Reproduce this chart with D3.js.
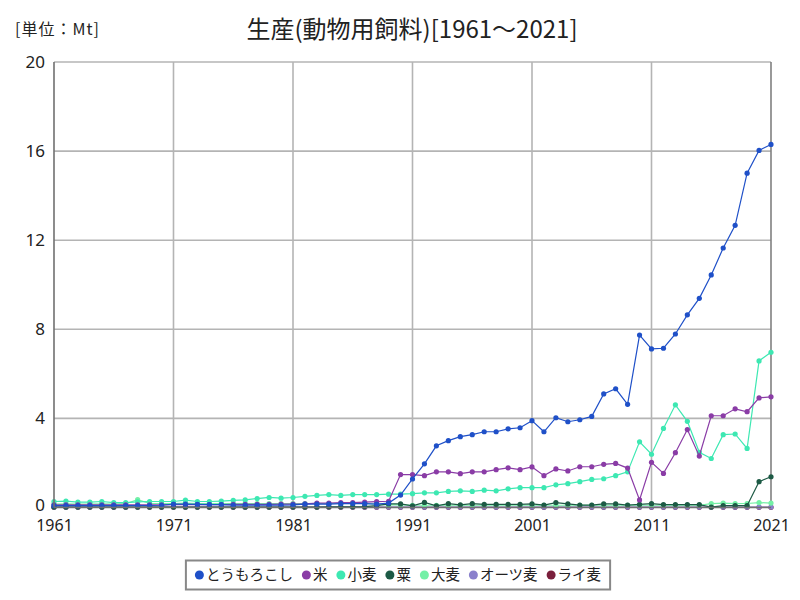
<!DOCTYPE html>
<html><head><meta charset="utf-8">
<script src="https://cdn.jsdelivr.net/npm/d3@7"></script>
<style>
body{margin:0;background:#fff;}
text{font-family:"Noto Sans CJK JP","Noto Sans",sans-serif;fill:#222;}
</style></head>
<body><svg id="chart" width="800" height="600"></svg>
<script>
const years = d3.range(1961, 2022);
const seriesNames = ["とうもろこし","米","小麦","粟","大麦","オーツ麦","ライ麦"];
const seriesColors = ["#1f50c8","#8a3ca6","#3de8b2","#1d5a45","#74f0a6","#8a80cc","#7a1f3c"];

const corn = [0.08,0.08,0.08,0.08,0.08,0.08,0.08,0.09,0.09,0.1,0.15,0.15,0.14,0.13,0.13,0.11,0.11,0.11,0.11,0.11,0.12,0.15,0.15,0.15,0.17,0.18,0.17,0.15,0.2,
  0.56,1.28,1.96,2.77,3.0,3.18,3.27,3.4,3.4,3.53,3.58,3.9,3.4,4.03,3.85,3.94,4.09,5.1,5.33,4.63,7.74,7.12,7.15,7.79,8.65,9.39,10.44,11.65,12.67,15.01,16.03,16.3];
const rice = [0.12,0.12,0.12,0.12,0.12,0.12,0.12,0.12,0.12,0.12,0.13,0.13,0.13,0.13,0.13,0.14,0.14,0.14,0.14,0.15,0.15,0.16,0.2,0.2,0.22,0.22,0.24,0.26,0.28,
  1.48,1.48,1.43,1.6,1.6,1.52,1.6,1.6,1.7,1.78,1.7,1.82,1.43,1.73,1.64,1.83,1.83,1.94,1.98,1.77,0.34,2.03,1.53,2.46,3.5,2.31,4.12,4.12,4.43,4.3,4.92,4.97];
const wheat = [0.27,0.29,0.24,0.24,0.27,0.22,0.22,0.25,0.27,0.27,0.27,0.33,0.27,0.27,0.29,0.32,0.34,0.4,0.45,0.42,0.45,0.5,0.54,0.58,0.54,0.58,0.58,0.58,0.6,
  0.6,0.62,0.66,0.66,0.72,0.75,0.72,0.78,0.75,0.84,0.89,0.89,0.89,1.02,1.07,1.16,1.26,1.29,1.43,1.6,2.95,2.39,3.55,4.61,3.87,2.48,2.2,3.27,3.3,2.65,6.58,6.97];
const millet = [0.02,0.02,0.02,0.02,0.02,0.02,0.02,0.02,0.02,0.02,0.02,0.02,0.02,0.02,0.02,0.02,0.02,0.02,0.02,0.02,0.02,0.02,0.02,0.03,0.03,0.03,0.04,0.08,0.16,
  0.16,0.07,0.23,0.07,0.17,0.12,0.17,0.14,0.14,0.14,0.14,0.16,0.11,0.22,0.16,0.11,0.11,0.16,0.16,0.11,0.14,0.17,0.13,0.13,0.13,0.13,0.02,0.08,0.08,0.08,1.16,1.38];
const barley = [0.15,0.16,0.15,0.15,0.16,0.15,0.17,0.35,0.18,0.18,0.18,0.2,0.18,0.18,0.18,0.18,0.18,0.18,0.18,0.18,0.18,0.18,0.18,0.18,0.18,0.18,0.18,0.15,0.12,
  0.12,0.1,0.1,0.1,0.1,0.1,0.1,0.1,0.1,0.1,0.1,0.1,0.1,0.1,0.1,0.1,0.1,0.1,0.1,0.1,0.1,0.1,0.1,0.1,0.1,0.1,0.17,0.2,0.17,0.18,0.22,0.2];
const oats = years.map(() => 0.02);
const rye = years.map(() => 0.01);
const seriesValues = [corn, rice, wheat, millet, barley, oats, rye];

const yTicks = [0,4,8,12,16,20];
const xTicks = [1961,1971,1981,1991,2001,2011,2021];
const titleText = "生産(動物用飼料)[1961～2021]";
const unitText = "[単位：Mt]";

const svg = d3.select("#chart");
const L = 54, R = 771, T = 62, B = 507.5;
const x = d3.scaleLinear().domain([1961, 2021]).range([L, R]);
const y = d3.scaleLinear().domain([0, 20]).range([B, T]);

// grid
const g = svg.append("g");
g.selectAll(".hg").data(yTicks.filter(d => d > 0)).join("line")
  .attr("x1", L).attr("x2", R).attr("y1", d => y(d)).attr("y2", d => y(d))
  .attr("stroke", "#b4b4b4").attr("stroke-width", 1.6);
g.selectAll(".vg").data(xTicks.filter(d => d > 1961)).join("line")
  .attr("x1", d => x(d)).attr("x2", d => x(d)).attr("y1", T).attr("y2", B)
  .attr("stroke", d => d === 2021 ? "#808080" : "#b4b4b4").attr("stroke-width", 1.6);

// series (draw reversed so first is on top)
const line = d3.line().x((d, i) => x(years[i])).y(d => y(d));
for (let s = seriesNames.length - 1; s >= 0; s--) {
  const vals = seriesValues[s];
  svg.append("path").datum(vals).attr("d", line)
    .attr("fill", "none").attr("stroke", seriesColors[s]).attr("stroke-width", 1.2);
  svg.append("g").selectAll("circle").data(vals).join("circle")
    .attr("cx", (d, i) => x(years[i])).attr("cy", d => y(d)).attr("r", 2.6)
    .attr("fill", seriesColors[s]);
}

// axes lines
svg.append("line").attr("x1", L).attr("x2", L).attr("y1", T).attr("y2", B).attr("stroke", "#707070").attr("stroke-width", 1.6);
svg.append("line").attr("x1", L).attr("x2", R).attr("y1", B).attr("y2", B).attr("stroke", "#707070").attr("stroke-width", 1.6);

// tick labels
const yAxis = d3.axisLeft(y).tickValues(yTicks).tickSize(0).tickPadding(9);
svg.append("g").attr("transform", `translate(${L},0)`).call(yAxis)
  .call(a => a.select(".domain").remove())
  .selectAll("text").style("font-size", "17px").attr("fill", "#222").style("font-family", "'Noto Sans','DejaVu Sans',sans-serif")
  .attr("dy", d => d === 0 ? "0.2em" : "0.32em");
const xAxis = d3.axisBottom(x).tickValues(xTicks).tickFormat(d3.format("d")).tickSize(0).tickPadding(12);
svg.append("g").attr("transform", `translate(0,${B})`).call(xAxis)
  .call(a => a.select(".domain").remove())
  .selectAll("text").style("font-size", "16px").attr("fill", "#222").style("font-family", "'Noto Sans','DejaVu Sans',sans-serif");

// title
svg.append("text").attr("x", 412).attr("y", 38).attr("text-anchor", "middle")
  .style("font-size", "24px").text(titleText);
svg.append("text").attr("x", 15).attr("y", 35).style("font-size", "16px").style("letter-spacing", "1px").text(unitText);

// legend
const lg = svg.append("g");
const box = lg.append("rect").attr("fill", "#fff").attr("stroke", "#888").attr("stroke-width", 2);
let cx = 0;
seriesNames.forEach((n, i) => {
  const it = lg.append("g");
  it.append("circle").attr("cx", cx + 4.5).attr("cy", 0).attr("r", 4.5).attr("fill", seriesColors[i]);
  const t = it.append("text").attr("x", cx + 11).attr("y", 5).style("font-size", "14.5px").text(n);
  const w = t.node().getComputedTextLength();
  cx += 11 + w + 9;
});
const totalW = cx - 9;
const lx = 398 - totalW / 2, ly = 575;
lg.attr("transform", `translate(${lx},${ly})`);
box.attr("x", -9).attr("y", -14.5).attr("width", totalW + 18).attr("height", 29);
</script></body></html>
